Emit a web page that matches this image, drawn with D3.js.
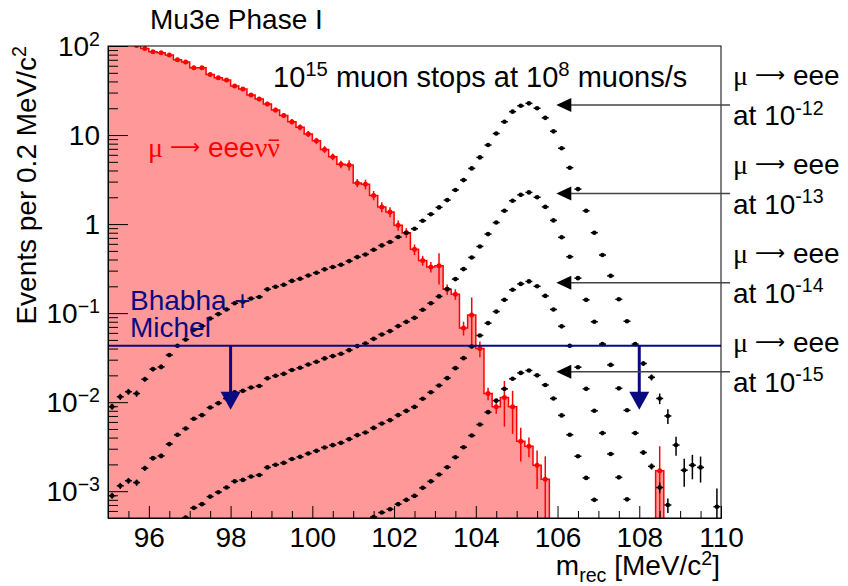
<!DOCTYPE html>
<html>
<head>
<meta charset="utf-8">
<script src="https://cdn.jsdelivr.net/npm/d3@7"></script>
<style>
body { margin: 0; background: #fff; }
svg text { font-family: 'Liberation Sans', Arial, Helvetica, sans-serif; }
</style>
</head>
<body>
<div id="chart"></div>
<script>
// ********** Mu3e Phase I reconstructed mass spectrum **********

// Histogram binning (MeV/c^2)
const binStart = 95;
const binWidth = 0.2;

// Internal conversion background, mu -> eeevv (events per bin)
const michelValues = [
	125, 117, 109, 101, 94,
	86, 84, 79, 70, 66,
	57, 57, 48, 44, 41.5,
	35.5, 32.9, 28.1, 25.4, 22.3,
	19.1, 16.6, 14.1, 12.2, 10.3,
	8.6, 6.9, 5.7, 4.7, 4.6,
	2.9, 2.8, 2.1, 1.56, 1.37,
	0.97, 0.8, 0.52, 0.39, 0.33,
	0.34, 0.185, 0.163, 0.068, 0.095,
	0.040, 0.0125, 0.0089, 0.0113, 0.0089,
	0.00365, 0.0032, 0.00196, 0.00136, 0,
	0, 0, 0, 0, 0,
	0, 0, 0, 0, 0,
	0, 0, 0.0017, 0, 0,
	0, 0, 0, 0, 0
];
const michelErrors = [
	3, 3, 3, 3, 3,
	3, 3, 3, 2.5, 2.5,
	2.5, 2.5, 2, 2, 2,
	1.8, 1.7, 1.5, 1.4, 1.3,
	1.2, 1.1, 1.0, 0.9, 0.8,
	0.7, 0.6, 0.5, 0.45, 0.6,
	0.3, 0.35, 0.25, 0.2, 0.18,
	0.13, 0.1, 0.07, 0.05, 0.045,
	0.13, 0.025, 0.022, 0.012, 0.055,
	0.008, 0.002, 0.0015, 0.006, 0.0045,
	0.0015, 0.0008, 0.0009, 0.0011, 0,
	0, 0, 0, 0, 0,
	0, 0, 0, 0, 0,
	0, 0, 0.0015, 0, 0,
	0, 0, 0, 0, 0
];

// Signal mu -> eee shape for a branching ratio of 10^-12 (events per bin)
const signalValues = [
	0.0089, 0.0115, 0.0131, 0.0125, 0.0181,
	0.0235, 0.0249, 0.0338, 0.043, 0.0506,
	0.065, 0.0715, 0.087, 0.0975, 0.11,
	0.129, 0.134, 0.146, 0.152, 0.185,
	0.198, 0.208, 0.23, 0.243, 0.265,
	0.284, 0.31, 0.329, 0.349, 0.384,
	0.426, 0.456, 0.514, 0.576, 0.628,
	0.715, 0.798, 0.885, 1.09, 1.29,
	1.54, 1.86, 2.41, 3.12, 4.22,
	5.61, 7.72, 10.4, 14.1, 18.3,
	21.3, 22.7, 20.0, 15.6, 11.0,
	7.1, 4.3, 2.47, 1.41, 0.80,
	0.449, 0.262, 0.143, 0.081, 0.0449,
	0.0272, 0.019, 0.011, 0.0070, 0.0033,
	0.00172, 0.00196, 0.00185, 0, 0.00067
];
const signalErrors = [
	0.0007, 0.0009, 0.001, 0.001, 0.0012,
	0.0014, 0.0015, 0.0018, 0.002, 0.0022,
	0.0025, 0.0027, 0.003, 0.0032, 0.0035,
	0.004, 0.004, 0.0042, 0.0043, 0.0047,
	0.005, 0.005, 0.0053, 0.0055, 0.0058,
	0.006, 0.0062, 0.0064, 0.0066, 0.007,
	0.0073, 0.0075, 0.008, 0.0085, 0.009,
	0.0095, 0.01, 0.011, 0.012, 0.013,
	0.014, 0.015, 0.018, 0.02, 0.023,
	0.026, 0.03, 0.035, 0.04, 0.045,
	0.05, 0.05, 0.048, 0.043, 0.037,
	0.03, 0.023, 0.017, 0.013, 0.01,
	0.007, 0.0055, 0.004, 0.003, 0.0022,
	0.0017, 0.0015, 0.0015, 0.0013, 0.0008,
	0.0006, 0.0006, 0.0006, 0, 0.0004
];

// Branching ratios drawn (relative to the 10^-12 shape) and their labels
const signalScales = [1, 0.1, 0.01, 0.001];
const signalExponents = ['-12', '-13', '-14', '-15'];
const signalLabelLevels = [21.7, 2.2, 0.22, 0.022];
const signalArrowFrom = 110.22;
const signalArrowTo = 105.97;

// Bhabha + Michel accidental background limit
const bhabhaLevel = 0.043;
const bhabhaArrowX = [98, 108];
const bhabhaArrowTip = 0.0082;

// Axis ticks
const xMajorTicks = [96, 98, 100, 102, 104, 106, 108, 110];
const yMajorTicks = [1e-3, 1e-2, 1e-1, 1, 10, 100];
const yTickBase = ['10', '10', '10', '1', '10', '10'];
const yTickSup = ['\u22123', '\u22122', '\u22121', '', '', '2'];

// Layout
const width = 848, height = 586;
const margin = { top: 46, left: 108, right: 127, bottom: 68 };
const fontSize = 28;
const navy = '#0a0a80';
const greek = "'Liberation Serif', 'DejaVu Serif', serif";
const arrowFont = "'DejaVu Sans', sans-serif";

const svg = d3.select('#chart').append('svg')
	.attr('width', width)
	.attr('height', height);

const xScale = d3.scaleLinear()
	.domain([95, 110])
	.range([margin.left, width - margin.right]);
const yScale = d3.scaleLog()
	.domain([5e-4, 100])
	.range([height - margin.bottom, margin.top]);
const yBottom = yScale.range()[0];

const binCenter = i => binStart + binWidth * (i + 0.5);

// Text with super/subscripts (and optional raised/lowered pieces)
const richText = (g, px, py, parts, size) => {
	const t = g.append('text')
		.attr('x', px)
		.attr('y', py)
		.style('font-size', size + 'px');
	let shift = 0;
	parts.forEach(p => {
		let target = p.sup ? -0.37 * size : (p.sub ? 0.25 * size : 0);
		if (p.dy) target += p.dy;
		const ts = t.append('tspan').attr('dy', target - shift).text(p.t);
		if (p.sup || p.sub) ts.style('font-size', (0.7 * size) + 'px');
		if (p.font) ts.style('font-family', p.font);
		if (p.size) ts.style('font-size', p.size + 'px');
		shift = target;
	});
	return t;
};

// Pieces of "mu -> eee"
const muToEee = () => [
	{ t: '\u03bc ', font: greek },
	{ t: '\u27f6', font: arrowFont, size: 21, dy: -3 },
	{ t: ' eee' }
];

// Clip for plot body
svg.append('defs').append('clipPath')
	.attr('id', 'body-clip')
	.append('rect')
	.attr('x', margin.left)
	.attr('y', margin.top)
	.attr('width', width - margin.left - margin.right)
	.attr('height', height - margin.top - margin.bottom);

const body = svg.append('g').attr('clip-path', 'url(#body-clip)');

// Step path of a histogram (zero bins left empty)
const stepPath = vals => {
	let d = '';
	let open = false;
	vals.forEach((v, i) => {
		const x0 = xScale(binStart + i * binWidth);
		const x1 = xScale(binStart + (i + 1) * binWidth);
		if (v > 0) {
			d += open ? `V${yScale(v)}` : `M${x0},${yBottom}V${yScale(v)}`;
			d += `H${x1}`;
			open = true;
		} else if (open) {
			d += `V${yBottom}`;
			open = false;
		}
	});
	if (open) d += `V${yBottom}`;
	return d;
};

// Michel background histogram
body.append('path')
	.attr('d', stepPath(michelValues))
	.attr('fill', '#ff9999')
	.attr('stroke', 'none');
body.append('path')
	.attr('d', stepPath(michelValues))
	.attr('fill', 'none')
	.attr('stroke', '#ff0000')
	.attr('stroke-width', 1.5);

const michelPts = michelValues
	.map((v, i) => ({ x: binCenter(i), v: v, e: michelErrors[i] }))
	.filter(d => d.v > 0);

body.selectAll('line.michel-err')
	.data(michelPts.filter(d => d.e > 0))
	.enter()
	.append('line')
	.attr('class', 'michel-err')
	.attr('x1', d => xScale(d.x))
	.attr('x2', d => xScale(d.x))
	.attr('y1', d => d.v - d.e > 0 ? yScale(d.v - d.e) : yBottom + 5)
	.attr('y2', d => yScale(d.v + d.e))
	.attr('stroke', '#ff0000')
	.attr('stroke-width', 1.5);

body.selectAll('circle.michel')
	.data(michelPts)
	.enter()
	.append('circle')
	.attr('class', 'michel')
	.attr('cx', d => xScale(d.x))
	.attr('cy', d => yScale(d.v))
	.attr('r', 2.5)
	.attr('fill', '#ff0000');

// Signal series
const yMin = yScale.domain()[0];
signalScales.forEach((s, k) => {
	const pts = signalValues
		.map((v, i) => ({ x: binCenter(i), v: v * s, e: signalErrors[i] * s }))
		.filter(d => d.v >= yMin);
	const g = body.append('g').attr('class', `signal signal-${k}`);
	g.selectAll('line.verr')
		.data(pts.filter(d => d.e > 0))
		.enter()
		.append('line')
		.attr('x1', d => xScale(d.x))
		.attr('x2', d => xScale(d.x))
		.attr('y1', d => d.v - d.e > 0 ? yScale(d.v - d.e) : yBottom + 5)
		.attr('y2', d => yScale(d.v + d.e))
		.attr('stroke', '#000')
		.attr('stroke-width', 1.5);
	g.selectAll('line.herr')
		.data(pts)
		.enter()
		.append('line')
		.attr('x1', d => xScale(d.x) - 3.5)
		.attr('x2', d => xScale(d.x) + 3.5)
		.attr('y1', d => yScale(d.v))
		.attr('y2', d => yScale(d.v))
		.attr('stroke', '#000')
		.attr('stroke-width', 1.5);
	g.selectAll('circle')
		.data(pts)
		.enter()
		.append('circle')
		.attr('cx', d => xScale(d.x))
		.attr('cy', d => yScale(d.v))
		.attr('r', 2.3)
		.attr('fill', '#000');
});

// Bhabha + Michel line and arrows
body.append('line')
	.attr('x1', xScale(95))
	.attr('x2', xScale(110))
	.attr('y1', yScale(bhabhaLevel))
	.attr('y2', yScale(bhabhaLevel))
	.attr('stroke', navy)
	.attr('stroke-width', 2);

bhabhaArrowX.forEach(ax => {
	const px = xScale(ax);
	const tip = yScale(bhabhaArrowTip);
	body.append('line')
		.attr('x1', px).attr('x2', px)
		.attr('y1', yScale(bhabhaLevel))
		.attr('y2', tip - 15)
		.attr('stroke', navy)
		.attr('stroke-width', 3);
	body.append('path')
		.attr('d', `M${px - 10},${tip - 18}L${px + 10},${tip - 18}L${px},${tip}Z`)
		.attr('fill', navy);
});

// Axes
const yAxis = d3.axisLeft(yScale)
	.tickValues(yMajorTicks)
	.tickSizeInner(-20)
	.tickSizeOuter(0)
	.tickFormat('');
const yMinor = yScale.ticks().filter(v => Math.abs(Math.log10(v) - Math.round(Math.log10(v))) > 1e-6);
const yAxisMinor = d3.axisLeft(yScale)
	.tickValues(yMinor)
	.tickSizeInner(-10)
	.tickSizeOuter(0)
	.tickFormat('');

svg.append('g')
	.attr('transform', `translate(${margin.left},0)`)
	.call(yAxis);
svg.append('g')
	.attr('transform', `translate(${margin.left},0)`)
	.call(yAxisMinor);

const xAxis = d3.axisBottom(xScale)
	.tickValues(xMajorTicks)
	.tickSizeInner(-12)
	.tickSizeOuter(0)
	.tickPadding(9)
	.tickFormat(d3.format('d'));
const xMinor = xScale.ticks(30).filter(v => v % 2 !== 0);
const xAxisMinor = d3.axisBottom(xScale)
	.tickValues(xMinor)
	.tickSizeInner(-7)
	.tickSizeOuter(0)
	.tickFormat('');

const xg = svg.append('g')
	.attr('transform', `translate(0,${yBottom})`)
	.call(xAxis);
xg.selectAll('text')
	.style('font-size', fontSize + 'px')
	.style('font-family', "'Liberation Sans', Arial, sans-serif")
	.attr('fill', '#000');
svg.append('g')
	.attr('transform', `translate(0,${yBottom})`)
	.call(xAxisMinor);

svg.selectAll('.tick line').attr('stroke', '#000');

// Frame
svg.append('rect')
	.attr('x', margin.left)
	.attr('y', margin.top)
	.attr('width', width - margin.left - margin.right)
	.attr('height', height - margin.top - margin.bottom)
	.attr('fill', 'none')
	.attr('stroke', '#000')
	.attr('stroke-width', 1);

// Y tick labels
const labels = svg.append('g');
yMajorTicks.forEach((v, i) => {
	const parts = [{ t: yTickBase[i] }];
	if (yTickSup[i]) parts.push({ t: yTickSup[i], sup: true });
	richText(labels, margin.left - 8, yScale(v) + 0.36 * fontSize, parts, fontSize)
		.attr('text-anchor', 'end');
});

// Axis titles
richText(labels, width - margin.right - 1, 575, [
	{ t: 'm' }, { t: 'rec', sub: true }, { t: ' [MeV/c' }, { t: '2', sup: true }, { t: ']' }
], fontSize).attr('text-anchor', 'end');

richText(labels, 0, 0, [
	{ t: 'Events per 0.2 MeV/c' }, { t: '2', sup: true }
], fontSize)
	.attr('text-anchor', 'end')
	.attr('transform', `translate(36,${margin.top}) rotate(-90)`);

// Title and annotations
richText(labels, 150, 29, [{ t: 'Mu3e Phase I' }], fontSize);

richText(labels, 273, 87, [
	{ t: '10' }, { t: '15', sup: true }, { t: ' muon stops at 10' }, { t: '8', sup: true }, { t: ' muons/s' }
], 29);

const redLabel = richText(labels, 148, 157, muToEee().concat([
	{ t: '\u03bd\u03bd', font: greek }
]), fontSize).attr('fill', '#ff0000');

// Bar over the last nu (anti-neutrino)
const nChars = redLabel.node().getNumberOfChars();
const nuBox = redLabel.node().getExtentOfChar(nChars - 1);
labels.append('line')
	.attr('x1', nuBox.x + 1.5)
	.attr('x2', nuBox.x + nuBox.width - 1)
	.attr('y1', 157 - 0.6 * fontSize)
	.attr('y2', 157 - 0.6 * fontSize)
	.attr('stroke', '#ff0000')
	.attr('stroke-width', 1.6);

richText(labels, 130, 310, [{ t: 'Bhabha +' }], fontSize).attr('fill', navy);
richText(labels, 130, 337, [{ t: 'Michel' }], fontSize).attr('fill', navy);

// Signal labels with arrows
signalLabelLevels.forEach((lv, k) => {
	const py = yScale(lv);
	const tipX = xScale(signalArrowTo);
	svg.append('line')
		.attr('x1', tipX + 14)
		.attr('x2', xScale(signalArrowFrom))
		.attr('y1', py)
		.attr('y2', py)
		.attr('stroke', '#444')
		.attr('stroke-width', 1.5);
	svg.append('path')
		.attr('d', `M${tipX},${py}L${tipX + 15},${py - 7}L${tipX + 15},${py + 7}Z`)
		.attr('fill', '#000');
	richText(labels, 733, py - 20, muToEee(), fontSize);
	richText(labels, 733, py + 20, [
		{ t: 'at 10' }, { t: signalExponents[k], sup: true }
	], fontSize);
});
</script>
</body>
</html>
